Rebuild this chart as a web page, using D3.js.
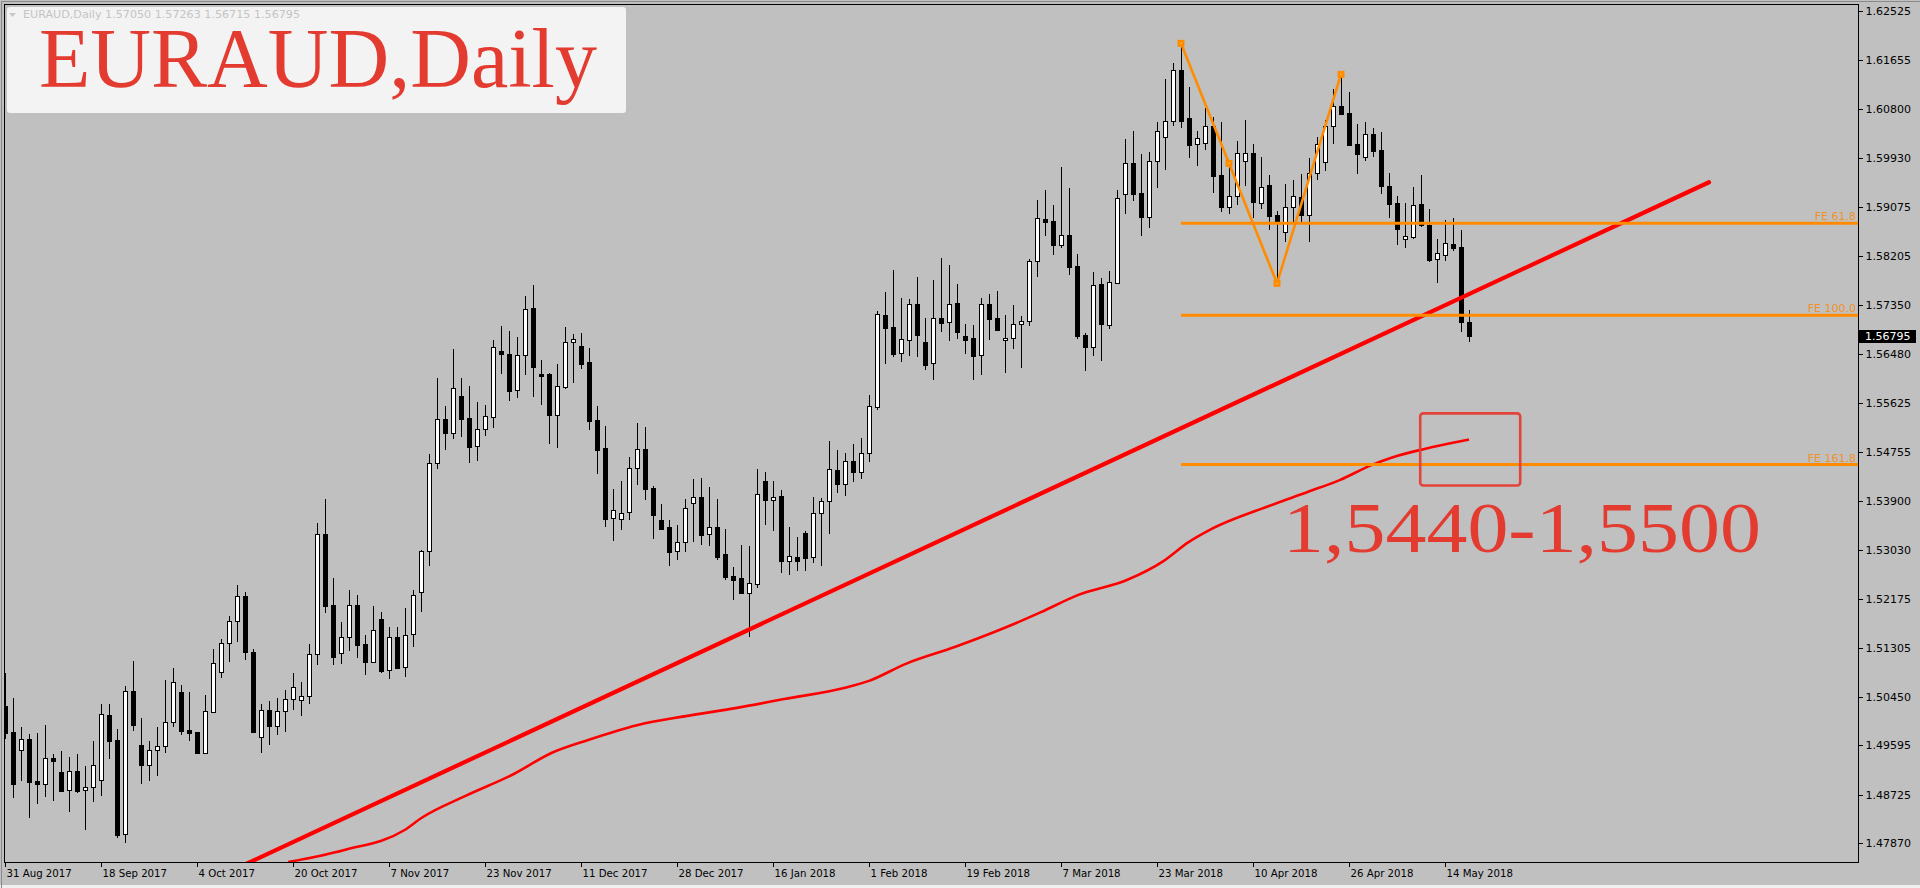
<!DOCTYPE html>
<html><head><meta charset="utf-8">
<script src="https://cdn.jsdelivr.net/npm/d3@7"></script>
<style>html,body{margin:0;padding:0;background:#c0c0c0;overflow:hidden}</style>
</head><body>
<svg id="chart" width="1920" height="888"></svg>
<script>
// ---- data (EURAUD daily) ----
const openP = [1.50288,1.49830,1.49513,1.49707,1.48967,1.48909,1.49366,1.49126,1.48803,1.49137,1.48803,1.48856,1.48979,1.50123,1.49689,1.48028,1.50552,1.49601,1.49249,1.49507,1.49578,1.50000,1.50528,1.49859,1.49824,1.49466,1.50188,1.50881,1.51391,1.51779,1.52225,1.51239,1.49736,1.50211,1.49930,1.50194,1.50405,1.50388,1.50458,1.51198,1.53311,1.52060,1.51215,1.51497,1.52060,1.51379,1.51068,1.51814,1.50916,1.51497,1.50969,1.51556,1.52289,1.53011,1.54561,1.55335,1.55089,1.55740,1.55353,1.54860,1.55159,1.55371,1.56539,1.56480,1.55846,1.56462,1.57290,1.56128,1.56128,1.55418,1.55911,1.56691,1.56621,1.56339,1.55318,1.54825,1.53592,1.53575,1.53698,1.54473,1.54807,1.54120,1.53563,1.53440,1.53011,1.53181,1.53856,1.53962,1.53310,1.53440,1.52964,1.52577,1.52542,1.52283,1.52430,1.54250,1.53909,1.53985,1.52847,1.52911,1.53334,1.52905,1.53680,1.53892,1.54450,1.54200,1.54600,1.54400,1.54750,1.55559,1.57173,1.56961,1.56509,1.56727,1.57360,1.56691,1.56322,1.57114,1.57043,1.57378,1.56803,1.56768,1.56462,1.57360,1.57114,1.56727,1.56762,1.57008,1.57061,1.58118,1.58857,1.58822,1.58411,1.58575,1.58029,1.56820,1.56615,1.57713,1.57002,1.57730,1.59297,1.59843,1.59315,1.58904,1.59878,1.60301,1.60583,1.61481,1.60635,1.60178,1.60195,1.60495,1.59638,1.59080,1.59262,1.59890,1.60019,1.59151,1.59456,1.58928,1.58628,1.59068,1.59244,1.58939,1.59679,1.59872,1.60506,1.60853,1.60729,1.60184,1.59961,1.60354,1.60078,1.59450,1.59145,1.58505,1.58552,1.59133,1.58751,1.58164,1.58235,1.58423,1.58370,1.57050];
const highP = [1.50875,1.50429,1.49924,1.49795,1.49812,1.49953,1.49443,1.49495,1.49396,1.49443,1.49231,1.49672,1.50323,1.50323,1.49877,1.50634,1.51080,1.50077,1.49672,1.49912,1.50746,1.50951,1.50658,1.50534,1.49824,1.50476,1.51286,1.51473,1.51873,1.52418,1.52295,1.51286,1.50317,1.50382,1.50429,1.50570,1.50869,1.50705,1.51374,1.53510,1.53933,1.52542,1.51767,1.52330,1.52242,1.51532,1.52049,1.51937,1.51679,1.51673,1.52013,1.52330,1.53035,1.54725,1.56063,1.55570,1.56574,1.56063,1.55922,1.55641,1.55588,1.56732,1.56979,1.56891,1.56785,1.57507,1.57701,1.56380,1.56151,1.56310,1.56955,1.56838,1.56850,1.56586,1.55570,1.55218,1.54109,1.54250,1.54666,1.55271,1.55200,1.54156,1.53845,1.53563,1.53475,1.53933,1.54285,1.54302,1.54144,1.53933,1.53404,1.52741,1.53117,1.53111,1.54455,1.54408,1.54244,1.54091,1.53440,1.53258,1.53375,1.53968,1.53956,1.54948,1.54800,1.54750,1.54900,1.55000,1.55764,1.57243,1.57578,1.57965,1.57478,1.57454,1.57842,1.57120,1.57789,1.58176,1.58053,1.57718,1.57014,1.56996,1.57478,1.57542,1.57595,1.57173,1.57343,1.57155,1.58159,1.59192,1.59368,1.59109,1.59779,1.59409,1.58241,1.56850,1.57924,1.57824,1.57947,1.59374,1.60272,1.60412,1.60002,1.60043,1.60565,1.61322,1.61610,1.61956,1.61187,1.60412,1.60823,1.60653,1.60571,1.59902,1.60230,1.60606,1.60178,1.59955,1.59638,1.59004,1.59473,1.59550,1.59655,1.59937,1.60313,1.60606,1.61146,1.61410,1.61099,1.60536,1.60565,1.60459,1.60395,1.59667,1.59268,1.59145,1.59421,1.59638,1.59033,1.58511,1.58839,1.58881,1.58669,1.57263];
const lowP = [1.49718,1.48691,1.48985,1.48339,1.48574,1.48709,1.48633,1.48797,1.48445,1.48768,1.48116,1.48621,1.48715,1.49378,1.47987,1.47899,1.49871,1.48938,1.48985,1.49079,1.49484,1.49942,1.49801,1.49695,1.49454,1.49454,1.50176,1.50798,1.51086,1.51438,1.51121,1.49836,1.49484,1.49625,1.49801,1.49853,1.50235,1.50135,1.50346,1.51033,1.51949,1.51033,1.51051,1.51274,1.51156,1.50857,1.51057,1.50892,1.50787,1.50963,1.50822,1.51350,1.51966,1.52776,1.54484,1.54819,1.55013,1.55048,1.54590,1.54625,1.55054,1.55206,1.56145,1.55682,1.55735,1.56128,1.55752,1.55611,1.54925,1.54854,1.55881,1.55999,1.56239,1.55171,1.54396,1.53463,1.53217,1.53410,1.53586,1.54197,1.53938,1.53252,1.53410,1.52776,1.52870,1.53023,1.53199,1.53140,1.53117,1.52882,1.52518,1.52166,1.52283,1.51526,1.52389,1.53498,1.53387,1.52653,1.52606,1.52688,1.52682,1.52829,1.52776,1.53328,1.54050,1.54000,1.54250,1.54300,1.54600,1.55512,1.56333,1.56457,1.56363,1.56468,1.56457,1.56222,1.56052,1.56891,1.56732,1.56762,1.56509,1.56052,1.56140,1.56756,1.56914,1.56175,1.56597,1.56263,1.57002,1.57865,1.58587,1.58241,1.58376,1.57889,1.56773,1.56204,1.56468,1.56380,1.56950,1.57730,1.58974,1.59197,1.58587,1.58728,1.59432,1.59749,1.60524,1.60489,1.59961,1.59820,1.60090,1.59344,1.59010,1.58974,1.59121,1.59462,1.58904,1.59051,1.58687,1.57730,1.58470,1.58787,1.58787,1.58481,1.59573,1.59732,1.60207,1.60706,1.60172,1.59679,1.59902,1.59978,1.59327,1.58904,1.58429,1.58376,1.58534,1.58746,1.58129,1.57760,1.58141,1.58317,1.56891,1.56715];
const closeP = [1.49818,1.48909,1.49701,1.48955,1.48909,1.49366,1.49325,1.48797,1.49137,1.48797,1.48856,1.49243,1.50141,1.49677,1.48016,1.50546,1.49959,1.49243,1.49507,1.49578,1.50000,1.50705,1.49853,1.49818,1.49454,1.50194,1.51039,1.51391,1.51779,1.52225,1.51233,1.49836,1.50211,1.49930,1.50194,1.50405,1.50616,1.50458,1.51198,1.53311,1.52054,1.51156,1.51497,1.52060,1.51368,1.51068,1.51620,1.50910,1.51497,1.50963,1.51532,1.52236,1.53017,1.54561,1.55335,1.55089,1.55881,1.55347,1.54854,1.55159,1.55394,1.56603,1.56480,1.55840,1.56462,1.57272,1.56263,1.56104,1.55418,1.55916,1.56691,1.56744,1.56316,1.55312,1.54801,1.53586,1.53733,1.53680,1.54473,1.54807,1.54115,1.53657,1.53410,1.53005,1.53170,1.53768,1.53962,1.53305,1.53440,1.52917,1.52565,1.52512,1.52283,1.52448,1.54015,1.53921,1.53962,1.52847,1.52929,1.52847,1.52894,1.53680,1.53897,1.54455,1.54200,1.54600,1.54400,1.54750,1.55570,1.57184,1.56950,1.56486,1.56744,1.57360,1.56826,1.56298,1.57114,1.57038,1.57372,1.56879,1.56738,1.56457,1.57360,1.57108,1.56914,1.56768,1.57008,1.57061,1.58118,1.58875,1.58816,1.58411,1.58575,1.58024,1.56809,1.56615,1.57695,1.57020,1.57748,1.59227,1.59843,1.59309,1.58904,1.59878,1.60407,1.60583,1.61481,1.60594,1.60172,1.60283,1.60495,1.59626,1.59080,1.59262,1.60025,1.60019,1.59168,1.59421,1.58922,1.58810,1.59068,1.59262,1.58939,1.59667,1.60178,1.60506,1.60853,1.60718,1.60172,1.60013,1.60354,1.60066,1.59450,1.59133,1.58693,1.58558,1.59109,1.58751,1.58141,1.58264,1.58440,1.58352,1.57055,1.56795];

// date axis: bar index of each label and the label text
const dateTickIdx = [0,12,24,36,48,60,72,84,96,108,120,132,144,156,168,180];
const dateTickLabels = ["31 Aug 2017","18 Sep 2017","4 Oct 2017","20 Oct 2017","7 Nov 2017","23 Nov 2017","11 Dec 2017","28 Dec 2017","16 Jan 2018","1 Feb 2018","19 Feb 2018","7 Mar 2018","23 Mar 2018","10 Apr 2018","26 Apr 2018","14 May 2018"];
// price axis ticks
const priceTicks = [1.62525,1.61655,1.60800,1.59930,1.59075,1.58205,1.57350,1.56480,1.55625,1.54755,1.53900,1.53030,1.52175,1.51305,1.50450,1.49595,1.48725,1.47870];

// moving average (bar index, value)
const maIdx = [35.4,42.3,49.9,52.1,57.5,63.6,68.3,72.9,79,85.1,91.3,97.4,105,108,112.6,118.8,124.9,129.5,134.1,140.3,144.8,147.9,150.6,158,162.9,166.9,170.8,173.3,177.3,180.2,183];
const maVal = [1.4754,1.4775,1.4810,1.4832,1.4870,1.4909,1.4946,1.4969,1.4995,1.5011,1.5025,1.5041,1.5061,1.5073,1.5103,1.5133,1.5166,1.5194,1.5224,1.5251,1.5284,1.5317,1.5339,1.5381,1.5406,1.5427,1.5453,1.5466,1.5481,1.5490,1.5498];

// support trend line (bar index, price)
const trendIdx = [25, 213];
const trendVal = [1.4717, 1.5951];

// zig-zag A-B-C used for the Fibonacci expansion
const zigIdx = [147, 159, 167];
const zigVal = [1.61956, 1.57730, 1.61410];

// Fibonacci expansion levels
const feLabels = ["FE 61.8","FE 100.0","FE 161.8"];
const feLevels = [1.5879, 1.5717, 1.5454];

// target zone box (bar index range, price range)
const zoneIdx = [176.9, 189.4];
const zoneVal = [1.5544, 1.5417];

const lastPrice = 1.56795;
const headerText = "EURAUD,Daily  1.57050 1.57263 1.56715 1.56795";

// ---- drawing ----
const svg = d3.select('#chart');
const P = {l:4, t:4, r:1858, b:862};
const x = d3.scaleLinear().domain([0, 183]).range([5, 1469]);
const y = d3.scaleLinear().domain([1.47541, 1.62649]).range([P.b, P.t]);

const bars = openP.map((o,i)=>({i, o, h:highP[i], l:lowP[i], c:closeP[i]}));

svg.append('rect').attr('width',1920).attr('height',888).attr('fill','#c0c0c0');
svg.append('rect').attr('x',0).attr('y',885).attr('width',1920).attr('height',3).attr('fill','#f0f0f0');
svg.append('path').attr('d','M1.5,888V1.5H1920').attr('fill','none').attr('stroke','#8a8a8a');

svg.append('clipPath').attr('id','plotclip').append('rect')
  .attr('x',P.l).attr('y',P.t).attr('width',P.r-P.l).attr('height',P.b-P.t);

const gC = svg.append('g').attr('shape-rendering','crispEdges').attr('clip-path','url(#plotclip)');
gC.selectAll('line.wick').data(bars).join('line').attr('class','wick')
  .attr('x1',d=>Math.round(x(d.i))+0.5).attr('x2',d=>Math.round(x(d.i))+0.5)
  .attr('y1',d=>Math.round(y(d.h))).attr('y2',d=>Math.round(y(d.l))+1)
  .attr('stroke','#000').attr('stroke-width',1);
gC.selectAll('rect.body').data(bars).join('rect').attr('class','body')
  .attr('x',d=>Math.round(x(d.i))-1.5)
  .attr('y',d=>Math.round(y(Math.max(d.o,d.c)))+0.5)
  .attr('width',4)
  .attr('height',d=>Math.max(1, Math.round(y(Math.min(d.o,d.c)))-Math.round(y(Math.max(d.o,d.c)))))
  .attr('fill',d=>d.c>=d.o?'#fff':'#000')
  .attr('stroke','#000').attr('stroke-width',1);

const gO = svg.append('g').attr('clip-path','url(#plotclip)');
// moving average
gO.append('path').datum(maIdx.map((v,k)=>[v,maVal[k]]))
  .attr('d', d3.line().x(d=>x(d[0])).y(d=>y(d[1])).curve(d3.curveMonotoneX))
  .attr('fill','none').attr('stroke','#ff0000').attr('stroke-width',2.6);
// trend line
gO.append('path').datum(trendIdx.map((v,k)=>[v,trendVal[k]]))
  .attr('d', d3.line().x(d=>x(d[0])).y(d=>y(d[1])))
  .attr('fill','none').attr('stroke','#ff0000').attr('stroke-width',4.2).attr('stroke-linecap','round');
// FE levels
gO.selectAll('line.fe').data(feLevels).join('line').attr('class','fe')
  .attr('x1',x(zigIdx[0])).attr('x2',P.r).attr('y1',d=>y(d)).attr('y2',d=>y(d))
  .attr('stroke','#ff8c00').attr('stroke-width',3);
gO.selectAll('text.fe').data(feLevels).join('text').attr('class','fe')
  .attr('x',P.r-2).attr('y',d=>y(d)-3).attr('text-anchor','end')
  .attr('font-family','DejaVu Sans, sans-serif').attr('font-size',11).attr('fill','#f0922a')
  .text((d,k)=>feLabels[k]);
// zig-zag
const zig = zigIdx.map((v,k)=>[x(v), y(zigVal[k])]);
gO.append('path').datum(zig).attr('d', d3.line())
  .attr('fill','none').attr('stroke','#ff8c00').attr('stroke-width',2.6);
const handles = zig.concat([[(zig[0][0]+zig[1][0])/2,(zig[0][1]+zig[1][1])/2]]);
gO.selectAll('rect.h').data(handles).join('rect').attr('class','h')
  .attr('x',d=>d[0]-3.5).attr('y',d=>d[1]-3.5).attr('width',7).attr('height',7).attr('fill','#ff8c00');
gO.selectAll('rect.hc').data(handles).join('rect').attr('class','hc')
  .attr('x',d=>d[0]-0.5).attr('y',d=>d[1]-0.5).attr('width',1).attr('height',1).attr('fill','#ffe0a0');

// plot frame
svg.append('rect').attr('x',P.l+0.5).attr('y',P.t+0.5).attr('width',P.r-P.l).attr('height',P.b-P.t)
  .attr('fill','none').attr('stroke','#000').attr('shape-rendering','crispEdges');

// price axis
const yAxis = d3.axisRight(y).tickValues(priceTicks).tickFormat(d=>d.toFixed(5)).tickSize(4).tickPadding(3);
const gy = svg.append('g').attr('transform',`translate(${P.r+0.5},0)`).call(yAxis);
gy.select('.domain').remove();
gy.selectAll('text').attr('font-family','DejaVu Sans, sans-serif').attr('font-size',11).attr('fill','#000');
gy.selectAll('line').attr('stroke','#000').attr('shape-rendering','crispEdges');

// date axis
const xAxis = d3.axisBottom(x).tickValues(dateTickIdx).tickFormat((d,k)=>dateTickLabels[k]).tickSize(4).tickPadding(3);
const gx = svg.append('g').attr('transform',`translate(0,${P.b+0.5})`).call(xAxis);
gx.select('.domain').remove();
gx.selectAll('text').attr('text-anchor','start').attr('dx',1)
  .attr('font-family','DejaVu Sans, sans-serif').attr('font-size',10.2).attr('fill','#000');
gx.selectAll('line').attr('stroke','#000').attr('shape-rendering','crispEdges');

// last price tag
const ly = Math.round(y(lastPrice));
svg.append('rect').attr('x',P.r+1).attr('y',ly-6).attr('width',57).attr('height',13).attr('fill','#000');
svg.append('text').attr('x',P.r+7).attr('y',ly).attr('dy','0.36em')
  .attr('font-family','DejaVu Sans, sans-serif').attr('font-size',11).attr('fill','#fff').text(lastPrice.toFixed(5));

// target zone box and caption
svg.append('rect').attr('x',x(zoneIdx[0])).attr('y',y(zoneVal[0]))
  .attr('width',x(zoneIdx[1])-x(zoneIdx[0])).attr('height',y(zoneVal[1])-y(zoneVal[0]))
  .attr('rx',3).attr('fill','none').attr('stroke','#e2433a').attr('stroke-width',2.6);
svg.append('text').attr('x',1283).attr('y',552)
  .attr('font-family','Liberation Serif, Times New Roman, serif').attr('font-size',72)
  .attr('textLength',478).attr('lengthAdjust','spacingAndGlyphs')
  .attr('fill','#e33b30').text('1,5440-1,5500');

// title panel
svg.append('rect').attr('x',7).attr('y',7).attr('width',619).attr('height',106).attr('rx',3).attr('fill','#f3f3f3');
svg.append('path').attr('d','M9,13h7l-3.5,4z').attr('fill','#c8c8c8');
svg.append('text').attr('x',23).attr('y',18).attr('font-family','DejaVu Sans, sans-serif').attr('font-size',10.5)
  .attr('fill','#c4c4c4').attr('textLength',277).attr('lengthAdjust','spacingAndGlyphs').text(headerText);
svg.append('text').attr('x',39).attr('y',87)
  .attr('font-family','Liberation Serif, Times New Roman, serif').attr('font-size',84)
  .attr('textLength',558).attr('lengthAdjust','spacingAndGlyphs')
  .attr('fill','#e33b30').text('EURAUD,Daily');
</script>
</body></html>
